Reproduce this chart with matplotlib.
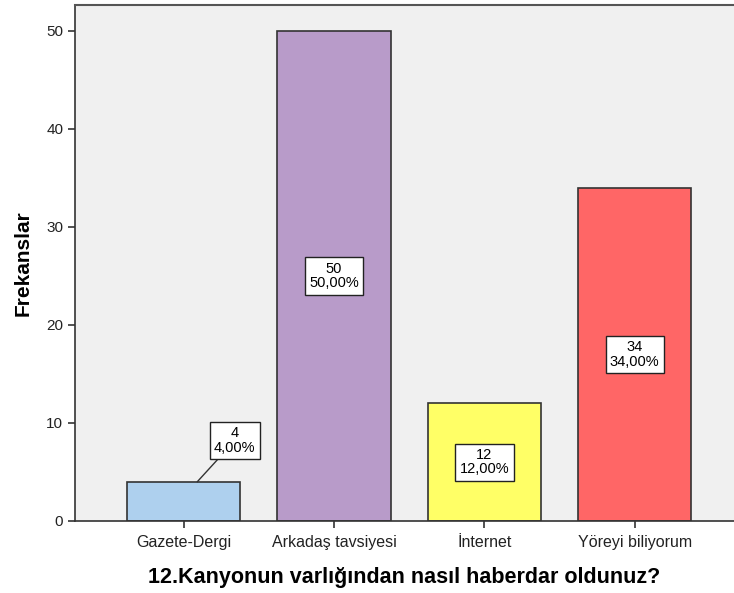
import matplotlib.pyplot as plt

plt.rcParams['font.family'] = ['Liberation Sans', 'DejaVu Sans']

categories = ['Gazete-Dergi', 'Arkadaş tavsiyesi', 'İnternet', 'Yöreyi biliyorum']
counts = [4, 50, 12, 34]
percents = ['4,00%', '50,00%', '12,00%', '34,00%']
colors = ['#aed0ee', '#b89bc9', '#ffff66', '#ff6666']

fig = plt.figure(figsize=(7.34, 5.93), dpi=100)
ax = fig.add_axes([75/734, 1 - 521/593, 1 - 75/734, (521 - 5)/593])
ax.set_facecolor('#f0f0f0')

x = list(range(len(categories)))
ax.bar(x, counts, width=0.753, color=colors, edgecolor='#333333', linewidth=1.2, zorder=2)

box = dict(boxstyle='square,pad=0.3', fc='white', ec='#222222', lw=1)
for i, (c, p) in enumerate(zip(counts, percents)):
    txt = f'{c}\n{p}'
    if c < 8:
        # small bar: label sits above with a leader line
        ax.annotate(txt, xy=(i + 0.09, c), xytext=(i + 0.34, c + 4.2),
                    ha='center', va='center', fontsize=10.5, linespacing=1.05,
                    bbox=box, zorder=4,
                    arrowprops=dict(arrowstyle='-', color='#333333', lw=1,
                                    shrinkA=0, shrinkB=0))
    else:
        ax.text(i, c / 2, txt, ha='center', va='center', fontsize=10.5,
                linespacing=1.05, bbox=box, zorder=4)

ax.set_xlim(-0.723, 3.66)
ax.set_ylim(0, 52.65)
ax.set_yticks([0, 10, 20, 30, 40, 50])
ax.set_xticks(x)
ax.set_xticklabels(categories)
ax.tick_params(axis='both', direction='out', length=5, width=1.2,
               color='#333333', labelsize=11, labelcolor='#222222')
ax.tick_params(axis='x', labelsize=11.5, pad=5)

ax.spines['right'].set_visible(False)
for s in ['left', 'bottom']:
    ax.spines[s].set_color('#333333')
    ax.spines[s].set_linewidth(1.2)
ax.spines['top'].set_color('#555555')
ax.spines['top'].set_linewidth(1.5)

ax.set_ylabel('Frekanslar', fontsize=15, fontweight='bold', labelpad=10)
ax.set_xlabel('12.Kanyonun varlığından nasıl haberdar oldunuz?',
              fontsize=15.5, fontweight='bold', labelpad=12)

fig.savefig('out.png', dpi=100)
